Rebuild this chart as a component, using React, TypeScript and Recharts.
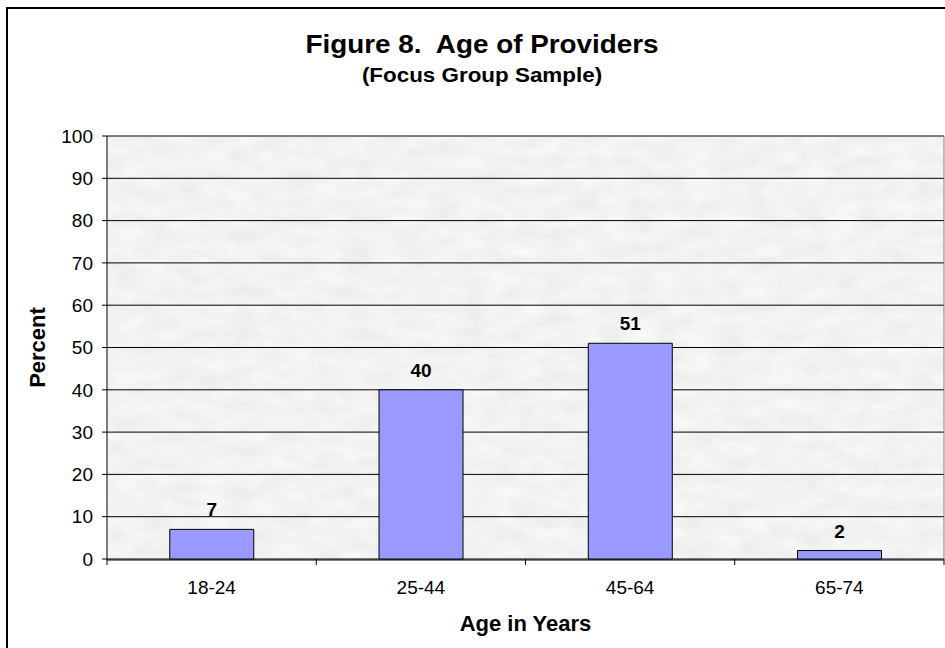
// Bar chart of provider ages (percent by age band), Excel-style: marbled grey
// plot area, black horizontal gridlines, periwinkle bars with black outlines
// and bold value labels above each bar.

import { Bar, BarChart, CartesianGrid, Label, LabelList, ReferenceLine, XAxis, YAxis } from "recharts";

const AGE_GROUPS = ["18-24", "25-44", "45-64", "65-74"];
const PERCENTS = [7, 40, 51, 2];
const Y_TICKS = [0, 10, 20, 30, 40, 50, 60, 70, 80, 90, 100];
// category boundaries on a 0..4 scale, used only for the between-bar tick marks
const EDGE_TICKS = [0, 1, 2, 3, 4];

const TITLE = "Figure 8.  Age of Providers";
const SUBTITLE = "(Focus Group Sample)";

const FONT = "'Liberation Sans', Arial, sans-serif";
const W = 945;
const H = 648;

const rows = AGE_GROUPS.map((g, i) => ({ group: g, pct: PERCENTS[i] }));

// tick lines only, no text
const NoLabel = () => <g />;

export default function App() {
  return (
    <div style={{ position: "absolute", left: 0, top: 0, width: W, height: H, overflow: "hidden", background: "#fff", fontFamily: FONT }}>
      {/* chart frame, runs off the right and bottom edges */}
      <div style={{ position: "absolute", left: 6, top: 7, width: W + 20, height: H + 20, border: "2px solid #000", boxSizing: "border-box" }} />
      <div style={{ position: "absolute", left: 32, width: 900, top: 31, textAlign: "center", fontSize: 26, lineHeight: "26px", fontWeight: "bold", whiteSpace: "pre", transform: "scaleX(1.07)" }}>
        {TITLE}
      </div>
      <div style={{ position: "absolute", left: 32, width: 900, top: 65, textAlign: "center", fontSize: 20, lineHeight: "20px", fontWeight: "bold", transform: "scaleX(1.12)" }}>
        {SUBTITLE}
      </div>
      <div style={{ position: "absolute", left: 0, top: 0 }}>
        <BarChart width={W} height={H} data={rows} margin={{ top: 136, right: 0, bottom: 0, left: 0 }} barCategoryGap="30%">
          <defs>
            <filter id="marbleNoise" x="0" y="0" width="100%" height="100%" colorInterpolationFilters="sRGB">
              <feTurbulence type="fractalNoise" baseFrequency="0.035 0.07" numOctaves={4} seed={11} />
              <feColorMatrix type="matrix" values="0.07 0 0 0 0.915  0.07 0 0 0 0.915  0.07 0 0 0 0.915  0 0 0 0 1" />
            </filter>
            <pattern id="marble" patternUnits="userSpaceOnUse" x="0" y="0" width={W} height={H}>
              <rect x="0" y="0" width={W} height={H} filter="url(#marbleNoise)" />
            </pattern>
          </defs>
          <CartesianGrid vertical={false} stroke="#000" strokeOpacity={1} fill="url(#marble)" fillOpacity={1} />
          <XAxis
            xAxisId="b"
            dataKey="group"
            height={88}
            axisLine={{ stroke: "#000" }}
            tickLine={false}
            tickSize={6}
            tickMargin={15}
            tick={{ fill: "#000", fontSize: 19, fontFamily: FONT }}
          >
            <Label value="Age in Years" position="insideBottom" offset={17} style={{ fill: "#000", fontSize: 22, fontWeight: "bold", fontFamily: FONT }} />
          </XAxis>
          <XAxis
            xAxisId="a"
            type="number"
            dataKey="pct"
            domain={[0, 4]}
            ticks={EDGE_TICKS}
            allowDataOverflow
            height={1}
            axisLine={false}
            tick={NoLabel}
            tickSize={6}
            tickLine={{ stroke: "#000" }}
          />
          <YAxis
            domain={[0, 100]}
            ticks={Y_TICKS}
            interval={0}
            width={107}
            axisLine={{ stroke: "#000" }}
            tickLine={{ stroke: "#000" }}
            tickSize={5}
            tickMargin={9}
            tick={{ fill: "#000", fontSize: 19, fontFamily: FONT }}
          >
            <Label value="Percent" angle={-90} position="insideLeft" offset={37} style={{ fill: "#000", fontSize: 22, fontWeight: "bold", fontFamily: FONT, textAnchor: "middle" }} />
          </YAxis>
          <YAxis yAxisId="r" orientation="right" width={1} domain={[0, 100]} tick={false} tickLine={false} axisLine={{ stroke: "#808080" }} />
          <ReferenceLine y={100} stroke="#808080" strokeWidth={1.5} />
          <Bar dataKey="pct" xAxisId="b" fill="#9999ff" stroke="#000" strokeWidth={1} isAnimationActive={false}>
            <LabelList dataKey="pct" position="top" offset={13} style={{ fill: "#000", fontSize: 19, fontWeight: "bold", fontFamily: FONT }} />
          </Bar>
        </BarChart>
      </div>
    </div>
  );
}
